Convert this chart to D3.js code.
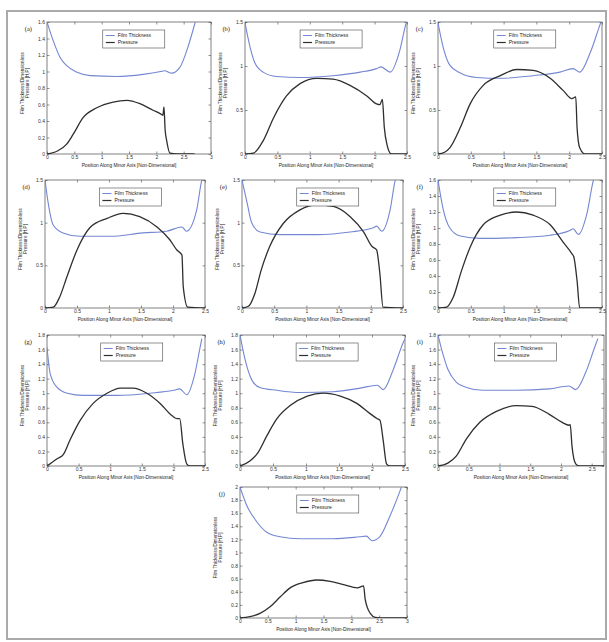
<!DOCTYPE html>
<html><head><meta charset="utf-8">
<script src="https://cdn.jsdelivr.net/npm/d3@7"></script>
<style>body{margin:0;background:#fff;} svg{display:block;}</style>
</head><body><svg id="c" width="609" height="642"></svg>
<script>
// ---------- DATA ----------
const panelIds = ["(a)","(b)","(c)","(d)","(e)","(f)","(g)","(h)","(i)","(j)"];
const seriesNames = ["Film Thickness","Pressure"];
const xTitle = "Position Along Minor Axis [Non-Dimensional]";
const yTitleLines = ["Film Thickness/Dimensionless","Pressure [H,P]"];
const xMaxes = [3, 2.5, 2.5, 2.5, 2.5, 2.5, 2.5, 2.5, 2.7, 3];
const yMaxes = [1.6, 1.5, 1.5, 1.5, 1.5, 1.6, 1.8, 1.8, 1.8, 2];
const xTicks = [0, 0.5, 1, 1.5, 2, 2.5, 3];
const yTicks15 = [0, 0.5, 1, 1.5];
const yTicks16 = [0, 0.2, 0.4, 0.6, 0.8, 1, 1.2, 1.4, 1.6];
const yTicks18 = [0, 0.2, 0.4, 0.6, 0.8, 1, 1.2, 1.4, 1.6, 1.8];
const yTicks20 = [0, 0.2, 0.4, 0.6, 0.8, 1, 1.2, 1.4, 1.6, 1.8, 2];

const filmA = [[0,1.6],[0.11,1.38],[0.24,1.17],[0.36,1.07],[0.55,0.99],[0.79,0.95],[1.27,0.94],[1.76,0.965],[2.08,1.0],[2.15,1.01],[2.28,0.98],[2.43,1.05],[2.58,1.3],[2.67,1.5],[2.72,1.62]];
const pressA = [[0,0],[0.2,0.04],[0.36,0.12],[0.48,0.24],[0.66,0.44],[0.91,0.56],[1.21,0.63],[1.46,0.65],[1.70,0.61],[1.94,0.53],[2.07,0.49],[2.12,0.47],[2.14,0.57],[2.16,0.3],[2.19,0.16],[2.25,0.01],[2.38,0],[2.7,0]];
const filmB = [[0,1.49],[0.08,1.21],[0.15,1.04],[0.28,0.93],[0.49,0.88],[0.85,0.87],[1.36,0.89],[1.78,0.93],[2.03,0.97],[2.1,0.99],[2.24,0.93],[2.39,1.18],[2.48,1.47],[2.5,1.52]];
const pressB = [[0,0],[0.13,0.01],[0.28,0.15],[0.44,0.41],[0.64,0.66],[0.85,0.8],[1.11,0.86],[1.36,0.85],[1.62,0.78],[1.88,0.66],[2.03,0.57],[2.08,0.56],[2.12,0.62],[2.15,0.3],[2.19,0.11],[2.26,0],[2.5,0]];
const filmC = [[0,1.49],[0.08,1.21],[0.18,1.01],[0.34,0.92],[0.59,0.87],[0.95,0.86],[1.45,0.89],[1.86,0.93],[2.06,0.97],[2.16,0.93],[2.32,1.15],[2.47,1.47],[2.5,1.53]];
const pressC = [[0,0],[0.1,0.02],[0.18,0.07],[0.34,0.3],[0.49,0.57],[0.69,0.78],[0.95,0.89],[1.2,0.96],[1.45,0.95],[1.71,0.86],[1.91,0.72],[2.04,0.63],[2.1,0.65],[2.12,0.3],[2.16,0.07],[2.24,0],[2.5,0]];
const filmD = [[0,1.5],[0.05,1.23],[0.13,0.97],[0.28,0.88],[0.55,0.84],[1.02,0.84],[1.53,0.88],[1.9,0.9],[2.14,0.95],[2.21,0.9],[2.37,1.15],[2.45,1.5],[2.47,1.55]];
const pressD = [[0,0],[0.13,0.01],[0.23,0.13],[0.34,0.36],[0.5,0.68],[0.7,0.94],[0.97,1.05],[1.22,1.11],[1.48,1.07],[1.75,0.95],[1.95,0.8],[2.06,0.68],[2.14,0.62],[2.16,0.25],[2.23,0.01],[2.5,0]];
const filmE = [[0,1.5],[0.08,1.23],[0.15,1.0],[0.28,0.89],[0.59,0.86],[1.16,0.86],[1.68,0.89],[2.04,0.94],[2.09,0.96],[2.17,0.9],[2.3,1.15],[2.38,1.5],[2.4,1.55]];
const pressE = [[0,0],[0.1,0.02],[0.2,0.17],[0.3,0.45],[0.43,0.72],[0.64,0.99],[0.9,1.15],[1.16,1.21],[1.42,1.19],[1.68,1.07],[1.89,0.89],[2.02,0.72],[2.09,0.68],[2.14,0.41],[2.19,0.01],[2.5,0]];
const filmF = [[0,1.6],[0.08,1.23],[0.18,1.0],[0.34,0.9],[0.64,0.87],[1.2,0.88],[1.71,0.91],[2.01,0.97],[2.06,0.99],[2.14,0.92],[2.27,1.18],[2.37,1.6],[2.39,1.65]];
const pressF = [[0,0],[0.13,0.01],[0.23,0.13],[0.36,0.47],[0.49,0.76],[0.69,1.04],[0.95,1.16],[1.2,1.2],[1.45,1.16],[1.71,1.04],[1.91,0.82],[2.04,0.68],[2.07,0.64],[2.12,0.34],[2.16,0],[2.5,0]];
const filmG = [[0,1.63],[0.05,1.27],[0.16,1.08],[0.32,1.0],[0.57,0.97],[1.1,0.97],[1.63,1.0],[2.0,1.04],[2.1,1.06],[2.21,0.98],[2.34,1.27],[2.42,1.62],[2.45,1.75]];
const pressG = [[0,0],[0.16,0.1],[0.26,0.16],[0.36,0.35],[0.52,0.62],[0.73,0.86],[0.95,1.0],[1.16,1.07],[1.36,1.07],[1.58,1.0],[1.79,0.86],[1.98,0.69],[2.06,0.65],[2.1,0.65],[2.15,0.3],[2.21,0.03],[2.26,0],[2.5,0]];
const filmH = [[0,1.8],[0.08,1.45],[0.18,1.18],[0.3,1.08],[0.56,1.04],[0.91,1.01],[1.41,1.02],[1.82,1.07],[2.08,1.11],[2.17,1.05],[2.32,1.32],[2.47,1.69],[2.5,1.75]];
const pressH = [[0,0],[0.15,0.07],[0.27,0.18],[0.41,0.42],[0.56,0.65],[0.76,0.83],[1.02,0.96],[1.26,1.0],[1.52,0.96],[1.77,0.86],[1.97,0.72],[2.08,0.65],[2.12,0.63],[2.17,0.35],[2.22,0.03],[2.27,0],[2.5,0]];
const filmI = [[0,1.8],[0.06,1.6],[0.16,1.33],[0.3,1.15],[0.46,1.08],[0.73,1.04],[1.27,1.04],[1.81,1.06],[2.13,1.1],[2.24,1.05],[2.4,1.28],[2.56,1.66],[2.6,1.75]];
const pressI = [[0,0],[0.16,0.04],[0.3,0.14],[0.46,0.37],[0.68,0.6],[0.95,0.75],[1.27,0.83],[1.53,0.82],[1.81,0.71],[2.02,0.6],[2.13,0.56],[2.15,0.57],[2.18,0.27],[2.24,0.03],[2.3,0],[2.7,0]];
const filmJ = [[0,2.0],[0.12,1.72],[0.3,1.47],[0.48,1.31],[0.72,1.24],[1.08,1.21],[1.67,1.21],[2.15,1.24],[2.27,1.25],[2.37,1.18],[2.51,1.24],[2.69,1.55],[2.87,1.93],[2.9,2.0]];
const pressJ = [[0,0],[0.18,0.02],[0.36,0.07],[0.54,0.17],[0.72,0.32],[0.9,0.46],[1.13,0.54],[1.38,0.58],[1.62,0.56],[1.86,0.51],[2.11,0.46],[2.22,0.49],[2.25,0.28],[2.34,0.07],[2.43,0.01],[2.6,0],[3,0]];

const filmSeries = [filmA, filmB, filmC, filmD, filmE, filmF, filmG, filmH, filmI, filmJ];
const pressSeries = [pressA, pressB, pressC, pressD, pressE, pressF, pressG, pressH, pressI, pressJ];
const yTickSets = [yTicks16, yTicks15, yTicks15, yTicks15, yTicks15, yTicks16, yTicks18, yTicks18, yTicks18, yTicks20];

// ---------- LAYOUT (pixel boxes of each plot area) ----------
const layout = [
  {x0:47, x1:211, y0:22, y1:154},
  {x0:245, x1:407, y0:22, y1:154},
  {x0:438, x1:602, y0:22, y1:154},
  {x0:45, x1:205, y0:180, y1:308},
  {x0:242, x1:403, y0:180, y1:308},
  {x0:438, x1:602, y0:180, y1:308},
  {x0:47, x1:205, y0:335, y1:466},
  {x0:240, x1:405, y0:335, y1:466},
  {x0:438, x1:604, y0:335, y1:466},
  {x0:240, x1:407, y0:487, y1:618}
];

const blue = "#7487d2", dark = "#2f2f2f", axisCol = "#4a4a4a";
const sans = "'Liberation Sans', Arial, sans-serif";
const fmt = v => String(+v.toFixed(2));

const svg = d3.select("#c");
svg.append("rect").attr("x",7).attr("y",11).attr("width",599).attr("height",628)
  .attr("fill","none").attr("stroke","#aaa").attr("stroke-width",2);

const defs = svg.append("defs");

panelIds.forEach((id, i) => {
  const L = layout[i];
  const x = d3.scaleLinear().domain([0, xMaxes[i]]).range([L.x0, L.x1]);
  const y = d3.scaleLinear().domain([0, yMaxes[i]]).range([L.y1, L.y0]);
  const g = svg.append("g");
  defs.append("clipPath").attr("id","clip"+i).append("rect")
    .attr("x",L.x0).attr("y",L.y0).attr("width",L.x1-L.x0).attr("height",L.y1-L.y0);

  const xt = xTicks.filter(v => v <= xMaxes[i] + 1e-9);
  const yt = yTickSets[i];
  const styleAxis = s => {
    s.select(".domain").remove();
    s.attr("font-family", sans).attr("font-size", 5);
    s.selectAll("line").attr("stroke", axisCol).attr("stroke-width", 0.6);
    s.selectAll("text").attr("fill", "#333");
  };
  g.append("g").attr("transform",`translate(0,${L.y1})`)
    .call(d3.axisBottom(x).tickValues(xt).tickSize(-2.5).tickPadding(1.5).tickFormat(fmt)).call(styleAxis);
  g.append("g").attr("transform",`translate(0,${L.y0})`)
    .call(d3.axisTop(x).tickValues(xt).tickSize(-2.5).tickFormat("")).call(styleAxis);
  g.append("g").attr("transform",`translate(${L.x0},0)`)
    .call(d3.axisLeft(y).tickValues(yt).tickSize(-2.5).tickPadding(2).tickFormat(fmt)).call(styleAxis);
  g.append("g").attr("transform",`translate(${L.x1},0)`)
    .call(d3.axisRight(y).tickValues(yt).tickSize(-2.5).tickFormat("")).call(styleAxis);

  g.append("rect").attr("x",L.x0).attr("y",L.y0).attr("width",L.x1-L.x0).attr("height",L.y1-L.y0)
    .attr("fill","none").attr("stroke",axisCol).attr("stroke-width",0.7);

  const line = d3.line().x(d => x(d[0])).y(d => y(d[1])).curve(d3.curveMonotoneX);
  const lg = g.append("g").attr("clip-path",`url(#clip${i})`);
  lg.append("path").datum(filmSeries[i]).attr("d", line)
    .attr("fill","none").attr("stroke",blue).attr("stroke-width",1.1);
  lg.append("path").datum(pressSeries[i]).attr("d", line)
    .attr("fill","none").attr("stroke",dark).attr("stroke-width",1.3);

  // legend
  const lx = L.x0 + 0.34*(L.x1-L.x0), ly = L.y0 + 8;
  const leg = g.append("g");
  leg.append("rect").attr("x",lx).attr("y",ly).attr("width",62).attr("height",18)
    .attr("fill","#fff").attr("stroke",axisCol).attr("stroke-width",0.6);
  [blue, dark].forEach((c, k) => {
    const yy = ly + 5.5 + k*7;
    leg.append("line").attr("x1",lx+3).attr("x2",lx+12).attr("y1",yy).attr("y2",yy)
      .attr("stroke",c).attr("stroke-width", k ? 1.2 : 1);
    leg.append("text").attr("x",lx+15).attr("y",yy+1.8).text(seriesNames[k])
      .attr("font-family",sans).attr("font-size",5).attr("fill","#222");
  });

  // panel label
  g.append("text").attr("x",L.x0-15).attr("y",L.y0+9).attr("text-anchor","end")
    .attr("font-family","'Liberation Serif', serif").attr("font-size",6.5).attr("fill","#222").text(id);

  // axis titles
  g.append("text").attr("x",(L.x0+L.x1)/2).attr("y",L.y1+13).attr("text-anchor","middle")
    .attr("font-family",sans).attr("font-size",4.8).attr("fill","#222").text(xTitle);
  const cy = (L.y0+L.y1)/2 - 5;
  yTitleLines.forEach((t, k) => {
    g.append("text").attr("transform",`translate(${L.x0-23+k*5},${cy}) rotate(-90)`)
      .attr("text-anchor","middle").attr("font-family",sans).attr("font-size",4.6).attr("fill","#222").text(t);
  });
});
</script></body></html>
